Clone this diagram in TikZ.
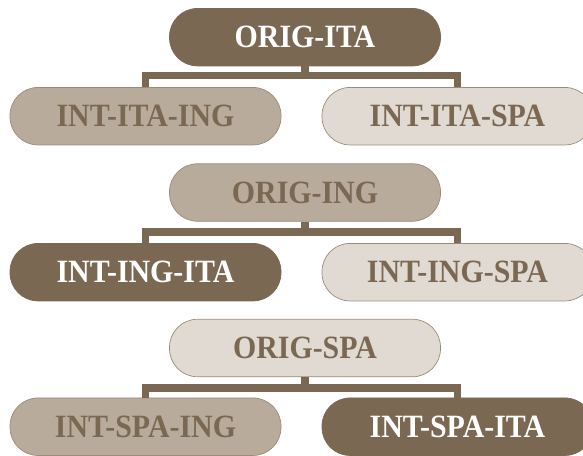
\documentclass[tikz,border=0pt]{standalone}
\usepackage{fontspec}
\setmainfont{Liberation Serif}
\newfontfamily\pillFont[FakeStretch=0.92]{Liberation Serif}
\usetikzlibrary{positioning}
\definecolor{brownDark}{HTML}{7A6852}
\definecolor{brownMid}{HTML}{B8AB9B}
\definecolor{brownLight}{HTML}{E0DAD3}
\definecolor{brownEdge}{HTML}{9C8B77}
\tikzset{
  pill/.style={rectangle, rounded corners=28pt, minimum width=271pt, minimum height=57.5pt, inner sep=0pt, font=\pillFont\fontsize{32.5}{32.5}\selectfont\bfseries, draw=brownEdge, line width=0.7pt},
  pillDark/.style={pill, fill=brownDark, draw=brownDark, text=white},
  pillMid/.style={pill, fill=brownMid, text=brownDark},
  pillLight/.style={pill, fill=brownLight, text=brownDark},
  link/.style={draw=brownDark, line width=7.5pt}
}

\begin{document}
\begin{tikzpicture}[x=1pt,y=-1pt]
				\useasboundingbox (0,0) rectangle (583,455);
				\clip (0,0) rectangle (583,455);
				% ITA
				\node [pillDark] (origIta) at (305,37.2) {ORIG-ITA};
				\node [pillMid] (intItaIng) at (145.5,116.2) {INT-ITA-ING};
				\node [pillLight] (intItaSpa) at (457.5,116.2) {INT-ITA-SPA};
				\coordinate (barIta) at (305,75.6);
				\draw [link] (origIta.south) -- (barIta);
				\draw [link] (intItaIng.north) |- (barIta) -| (intItaSpa.north);
				% ING
				\node [pillMid] (origIng) at (305,192.5) {ORIG-ING};
				\node [pillDark] (intIngIta) at (145.5,272.2) {INT-ING-ITA};
				\node [pillLight] (intIngSpa) at (457.5,272.2) {INT-ING-SPA};
				\coordinate (barIng) at (305,232.2);
				\draw [link] (origIng.south) -- (barIng);
				\draw [link] (intIngIta.north) |- (barIng) -| (intIngSpa.north);
				% SPA
				\node [pillLight] (origSpa) at (305,348) {ORIG-SPA};
				\node [pillMid] (intSpaIng) at (145.5,426.7) {INT-SPA-ING};
				\node [pillDark] (intSpaIta) at (457.5,426.7) {INT-SPA-ITA};
				\coordinate (barSpa) at (305,387.9);
				\draw [link] (origSpa.south) -- (barSpa);
				\draw [link] (intSpaIng.north) |- (barSpa) -| (intSpaIta.north);
\end{tikzpicture}
\end{document}
